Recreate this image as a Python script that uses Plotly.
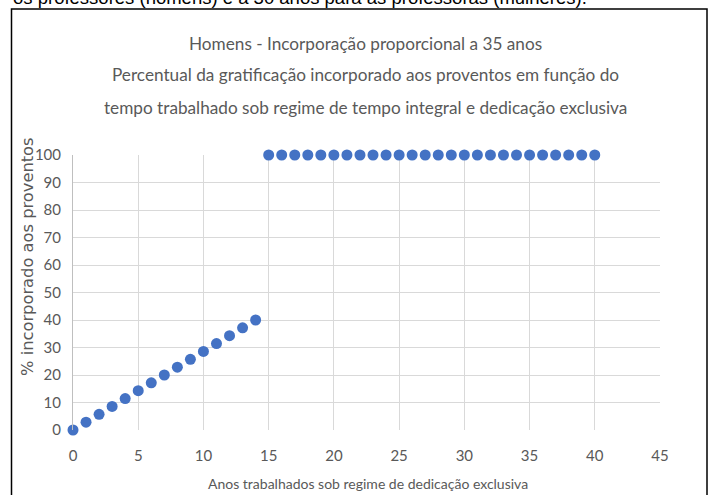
import plotly.graph_objects as go

anos = [0, 1, 2, 3, 4, 5, 6, 7, 8, 9, 10, 11, 12, 13, 14,
        15, 16, 17, 18, 19, 20, 21, 22, 23, 24, 25, 26, 27, 28, 29,
        30, 31, 32, 33, 34, 35, 36, 37, 38, 39, 40]
percentual = [0, 2.86, 5.71, 8.57, 11.43, 14.29, 17.14, 20, 22.86, 25.71,
              28.57, 31.43, 34.29, 37.14, 40,
              100, 100, 100, 100, 100, 100, 100, 100, 100, 100, 100, 100, 100,
              100, 100, 100, 100, 100, 100, 100, 100, 100, 100, 100, 100, 100]

titulo = ["Homens - Incorporação proporcional a 35 anos",
          "Percentual da gratificação incorporado aos proventos em função do",
          "tempo trabalhado sob regime de tempo integral e dedicação exclusiva"]
texto_topo = "os professores (homens) e a 30 anos para as professoras (mulheres)."
eixo_x = "Anos trabalhados sob regime de dedicação exclusiva"
eixo_y = "% incorporado aos proventos"

W, H = 713, 495
L, R, T, B = 73, 53, 155, 65
pw, ph = W - L - R, H - T - B

def px(x):
    return (x - L) / pw

def py(y):
    return (H - B - y) / ph

font_narrow = "Lato, Roboto, sans-serif"
gray = "#595959"

fig = go.Figure()
fig.add_trace(go.Scatter(x=anos, y=percentual, mode="markers",
                         marker=dict(color="#4472C4", size=11),
                         cliponaxis=False, showlegend=False))

fig.update_layout(
    width=W, height=H,
    margin=dict(l=L, r=R, t=T, b=B),
    paper_bgcolor="white", plot_bgcolor="white",
    font=dict(family=font_narrow, color=gray, size=14),
    xaxis=dict(range=[0, 45], dtick=5, showgrid=True, gridcolor="#d9d9d9",
               zeroline=False, showline=False, ticks="", ticklabelstandoff=15,
               tickfont=dict(size=15, family=font_narrow, color=gray)),
    yaxis=dict(range=[0, 100], dtick=10, showgrid=True, gridcolor="#d9d9d9",
               zeroline=False, showline=True, linecolor="#bfbfbf", ticks="",
               ticklabelstandoff=8,
               tickfont=dict(size=15, family=font_narrow, color=gray)),
)

shapes = [dict(type="rect", xref="paper", yref="paper",
               x0=px(11.5), x1=px(707), y0=py(9), y1=py(500),
               line=dict(color="black", width=1.5), layer="below")]
fig.update_layout(shapes=shapes)

ann = []
for t, yp in zip(titulo, [43, 75, 107]):
    ann.append(dict(text=t, xref="paper", yref="paper", x=px(365), y=py(yp),
                    xanchor="center", yanchor="middle", showarrow=False,
                    font=dict(size=17.2, family=font_narrow, color=gray)))
ann.append(dict(text=eixo_x, xref="paper", yref="paper", x=px(368), y=py(483),
                xanchor="center", yanchor="middle", showarrow=False,
                font=dict(size=14, family=font_narrow, color=gray)))
ann.append(dict(text=eixo_y, xref="paper", yref="paper", x=px(27), y=py(257),
                xanchor="center", yanchor="middle", showarrow=False, textangle=-90,
                font=dict(size=16.3, family="DejaVu Sans, Verdana, sans-serif", color=gray)))
ann.append(dict(text=texto_topo, xref="paper", yref="paper", x=px(11), y=py(10),
                xanchor="left", yanchor="bottom", showarrow=False,
                font=dict(size=18.5, family="Liberation Sans, Arial, sans-serif", color="black")))
fig.update_layout(annotations=ann)

fig.write_html("out.html", config={"displayModeBar": False},
               post_script="document.body.style.margin='0';")
